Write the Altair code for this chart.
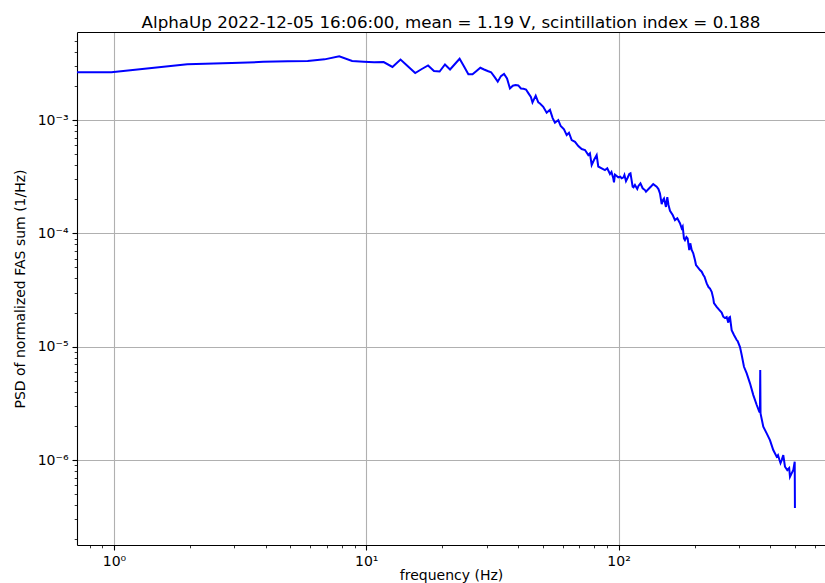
import math

import altair as alt
import pandas as pd

TITLE = "AlphaUp 2022-12-05 16:06:00, mean = 1.19 V, scintillation index = 0.188"
FONT = "DejaVu Sans"

# Lowest bins (about 0.98 Hz resolution); the first entry carries the DC level to the axis edge
freq_low = [0.70, 0.977, 1.953, 2.930, 3.906, 4.883, 5.859, 6.836, 7.813, 8.789,
            9.766, 10.74, 11.72, 12.70, 13.67, 14.65, 15.63, 16.60, 17.58, 18.55,
            19.53, 20.51, 21.48, 22.46, 23.44, 24.41, 25.39, 26.37, 27.34, 28.32,
            29.30, 30.27, 31.25, 32.23, 33.20, 34.18, 35.16, 36.13, 37.11, 38.09,
            39.06, 40.04, 41.02, 41.99, 42.97, 43.95]
psd_low = [2.64e-3, 2.64e-3, 3.10e-3, 3.18e-3, 3.26e-3, 3.30e-3, 3.32e-3, 3.43e-3, 3.65e-3, 3.32e-3,
           3.27e-3, 3.23e-3, 3.25e-3, 2.94e-3, 3.42e-3, 2.97e-3, 2.60e-3, 2.82e-3, 3.03e-3, 2.71e-3,
           2.68e-3, 3.09e-3, 2.79e-3, 3.12e-3, 3.47e-3, 2.97e-3, 2.53e-3, 2.53e-3, 2.71e-3, 2.89e-3,
           2.79e-3, 2.71e-3, 2.64e-3, 2.40e-3, 2.18e-3, 2.44e-3, 2.55e-3, 2.33e-3, 1.90e-3, 2.01e-3,
           2.04e-3, 2.02e-3, 1.90e-3, 1.89e-3, 1.86e-3, 1.72e-3]

# Roll-off region, 45 - 146 Hz
freq_mid = [44.92, 45.58, 46.94, 48.06, 48.81, 50.29, 51.88, 53.46, 54.80, 55.96,
            57.68, 58.96, 60.77, 62.28, 63.60, 65.19, 67.19, 69.25, 71.42, 73.61,
            75.87, 77.00, 78.23, 79.89, 81.88, 83.08, 85.70, 88.33, 90.20, 92.45,
            93.72, 95.28, 95.89, 96.76, 99.72, 101.6, 102.9, 104.6, 105.5, 107.0,
            108.5, 110.3, 111.5, 113.7, 114.6, 116.1, 118.6, 119.9, 122.1, 124.6,
            127.2, 128.4, 132.3, 134.4, 137.2, 141.6, 143.9, 145.9]
psd_mid = [1.60e-3, 1.43e-3, 1.64e-3, 1.43e-3, 1.40e-3, 1.31e-3, 1.16e-3, 1.23e-3, 1.04e-3, 9.47e-4,
           1.00e-3, 8.85e-4, 8.28e-4, 7.37e-4, 7.72e-4, 6.66e-4, 6.43e-4, 5.90e-4, 5.55e-4, 5.44e-4,
           4.91e-4, 5.08e-4, 4.01e-4, 4.44e-4, 4.91e-4, 3.89e-4, 3.75e-4, 3.62e-4, 3.75e-4, 3.34e-4,
           3.48e-4, 3.06e-4, 2.82e-4, 3.30e-4, 3.12e-4, 3.16e-4, 3.06e-4, 3.12e-4, 3.27e-4, 2.89e-4,
           3.08e-4, 3.34e-4, 3.39e-4, 2.58e-4, 2.55e-4, 2.67e-4, 2.46e-4, 2.62e-4, 2.76e-4, 2.50e-4,
           2.41e-4, 2.33e-4, 2.50e-4, 2.59e-4, 2.72e-4, 2.58e-4, 2.46e-4, 2.25e-4]

# Steep fall-off up to the 500 Hz Nyquist bin (narrow line near 364 Hz)
freq_high = [148.2, 150.0, 151.4, 154.1, 156.0, 157.7, 159.9, 163.9, 167.3, 170.9,
             175.1, 177.9, 179.5, 181.6, 183.3, 185.8, 187.8, 190.6, 192.4, 194.9,
             197.7, 200.8, 202.7, 205.1, 210.2, 213.5, 216.7, 219.0, 223.5, 227.2,
             230.3, 233.9, 237.3, 238.8, 244.8, 250.6, 256.2, 260.0, 264.1, 268.2,
             272.2, 274.4, 276.4, 280.7, 286.7, 293.9, 296.5, 302.9, 307.6, 314.1,
             322.0, 331.8, 342.0, 352.8, 361.3, 363.3, 364.3, 365.3, 374.6, 386.4,
             398.1, 410.3, 423.3, 428.4, 434.3, 438.3, 443.1, 449.6, 456.6, 466.3,
             474.5, 478.0, 485.3, 492.5, 499.0, 500.0]
psd_high = [1.81e-4, 1.97e-4, 2.03e-4, 1.71e-4, 2.09e-4, 1.78e-4, 1.58e-4, 1.45e-4, 1.31e-4, 1.36e-4,
            1.23e-4, 1.11e-4, 1.15e-4, 9.04e-5, 8.73e-5, 9.28e-5, 9.04e-5, 7.13e-5, 8.17e-5, 7.13e-5,
            6.66e-5, 5.82e-5, 5.26e-5, 5.08e-5, 4.75e-5, 4.59e-5, 4.29e-5, 4.14e-5, 3.62e-5, 3.36e-5,
            3.26e-5, 3.05e-5, 2.67e-5, 2.43e-5, 2.25e-5, 2.11e-5, 2.00e-5, 1.84e-5, 1.79e-5, 1.83e-5,
            1.63e-5, 1.81e-5, 1.83e-5, 1.40e-5, 1.27e-5, 1.145e-5, 1.12e-5, 9.93e-6, 8.44e-6, 6.65e-6,
            5.82e-6, 4.75e-6, 3.74e-6, 3.06e-6, 2.67e-6, 2.65e-6, 6.22e-6, 2.58e-6, 1.97e-6, 1.72e-6,
            1.50e-6, 1.225e-6, 1.069e-6, 1.106e-6, 1.00e-6, 9.41e-7, 1.00e-6, 1.106e-6, 8.73e-7, 8.16e-7,
            8.50e-7, 7.12e-7, 7.63e-7, 8.16e-7, 9.66e-7, 3.77e-7]

# Axis ticks
x_major = [1, 10, 100]
x_minor = [0.8, 0.9, 2, 3, 4, 5, 6, 7, 8, 9, 20, 30, 40, 50, 60, 70, 80, 90,
           200, 300, 400, 500, 600]
y_major = [1e-6, 1e-5, 1e-4, 1e-3]
y_minor = [m * 10.0 ** e for e in (-7, -6, -5, -4, -3) for m in range(2, 10)
           if 1.78e-7 <= m * 10.0 ** e <= 5.98e-3]

X_DOMAIN = [0.7137, 657.9]
Y_DOMAIN = [1.78e-7, 5.98e-3]

df = pd.DataFrame({
    "freq": freq_low + freq_mid + freq_high,
    "psd": psd_low + psd_mid + psd_high,
})

SUP = str.maketrans("-0123456789", "⁻⁰¹²³⁴⁵⁶⁷⁸⁹")


def power_labels(values):
    """Vega expression that writes each decade tick as 10 with a superscript exponent."""
    parts = []
    for v in values:
        e = round(math.log10(v))
        parts.append(f"round(log(datum.value) / LN10) == {e} ? '10{str(e).translate(SUP)}' : ")
    return "".join(parts) + "''"


xs = alt.Scale(type="log", domain=X_DOMAIN, nice=False, zero=False)
ys = alt.Scale(type="log", domain=Y_DOMAIN, nice=False, zero=False)

common = dict(labelFont=FONT, titleFont=FONT, labelColor="black", titleColor="black",
              tickColor="black", domainColor="black")

x_axis_major = alt.Axis(orient="bottom", values=x_major, labelExpr=power_labels(x_major),
                        grid=True, gridColor="#b0b0b0", gridWidth=1.1,
                        tickSize=5, tickWidth=1.1, domainWidth=1.1,
                        labelFontSize=14, labelPadding=4, labelFlush=False, labelOverlap=False,
                        title="frequency (Hz)", titleFontSize=14, titleFontWeight="normal",
                        titlePadding=0, **common)
y_axis_major = alt.Axis(orient="left", values=y_major, labelExpr=power_labels(y_major),
                        grid=True, gridColor="#b0b0b0", gridWidth=1.1,
                        tickSize=5, tickWidth=1.1, domainWidth=1.1,
                        labelFontSize=14, labelPadding=4, labelFlush=False, labelOverlap=False,
                        title="PSD of normalized FAS sum (1/Hz)", titleFontSize=14,
                        titleFontWeight="normal", titlePadding=10, **common)
x_axis_minor = alt.Axis(orient="bottom", values=x_minor, labels=False, grid=False, domain=False,
                        tickSize=2.8, tickWidth=0.8, title=None, tickColor="black")
y_axis_minor = alt.Axis(orient="left", values=y_minor, labels=False, grid=False, domain=False,
                        tickSize=2.8, tickWidth=0.8, title=None, tickColor="black")
x_axis_top = alt.Axis(orient="top", labels=False, ticks=False, grid=False, domain=True,
                      domainColor="black", domainWidth=1.1, title=None)

base = alt.Chart(df)

minor = base.mark_point(opacity=0).encode(
    x=alt.X("freq:Q", scale=xs, axis=x_axis_minor),
    y=alt.Y("psd:Q", scale=ys, axis=y_axis_minor),
)
frame = base.mark_point(opacity=0).encode(
    x=alt.X("freq:Q", scale=xs, axis=x_axis_top),
    y=alt.Y("psd:Q", scale=ys, axis=None),
)
line = base.mark_line(color="#0000ff", strokeWidth=2, clip=True).encode(
    x=alt.X("freq:Q", scale=xs, axis=x_axis_major),
    y=alt.Y("psd:Q", scale=ys, axis=y_axis_major),
)

chart = (
    alt.layer(minor, frame, line)
    .resolve_axis(x="independent", y="independent")
    .properties(
        width=748,
        height=513,
        padding={"left": 77, "top": 32, "right": 0, "bottom": 38},
        autosize=alt.AutoSizeParams(type="none"),
        title=alt.TitleParams(TITLE, font=FONT, fontSize=16.7, fontWeight="normal",
                              color="black", anchor="middle", frame="group",
                              baseline="alphabetic", offset=8, dy=21),
        background="white",
    )
    .configure_view(stroke="transparent")
)

chart.save("out.html", embed_options={"renderer": "svg", "actions": False})
